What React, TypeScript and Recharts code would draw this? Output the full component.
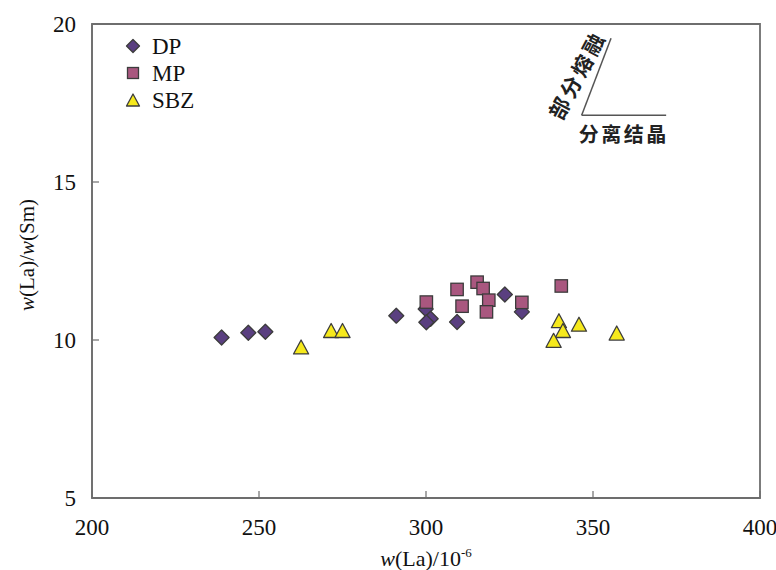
import React from 'react';
import { ScatterChart, Scatter, XAxis, YAxis, ReferenceLine, ReferenceArea, ReferenceDot, Legend } from 'recharts';

const seriesNames = ['DP', 'MP', 'SBZ'];
const dpLa = [238.8, 246.8, 251.9, 291.1, 299.9, 301.4, 300.1, 309.3, 323.6, 328.7];
const dpRatio = [10.08, 10.23, 10.26, 10.77, 10.98, 10.67, 10.56, 10.57, 11.44, 10.89];
const mpLa = [300.1, 309.3, 315.3, 317.1, 310.8, 318.8, 318.1, 328.7, 340.5];
const mpRatio = [11.2, 11.6, 11.83, 11.63, 11.07, 11.26, 10.89, 11.19, 11.71];
const sbzLa = [262.6, 271.6, 275.0, 339.8, 341.0, 338.2, 345.8, 357.1];
const sbzRatio = [9.78, 10.3, 10.3, 10.61, 10.3, 9.99, 10.5, 10.22];
const xTicks = [200, 250, 300, 350, 400];
const yTicks = [5, 10, 15, 20];
const xDomain = [200, 400];
const yDomain = [5, 20];
const meltLabel = '部分熔融';
const crystLabel = '分离结晶';
// annotation guide lines (data coordinates)
const arrowOrigin = { x: 346.6, y: 17.11 };
const meltEnd = { x: 355.4, y: 19.55 };
const crystEnd = { x: 371.9, y: 17.11 };
const meltTextPos = { x: 345.0, y: 18.4 };
const crystTextPos = { x: 359.2, y: 16.52 };

const toPts = (xs: number[], ys: number[]) => xs.map((x, i) => ({ x, y: ys[i] }));
const dpData = toPts(dpLa, dpRatio);
const mpData = toPts(mpLa, mpRatio);
const sbzData = toPts(sbzLa, sbzRatio);

const SERIF = '"Liberation Serif", "Times New Roman", serif';
const CJK = '"Noto Sans CJK SC", sans-serif';
const STROKE = '#3c3c3c';
const AXIS = '#6e6e6e';
const COLORS = { DP: '#5a3f80', MP: '#a9577f', SBZ: '#f6e91c' };

const diamond = (cx: number, cy: number, r: number, fill: string) => (
  <polygon points={`${cx},${cy - r} ${cx + r},${cy} ${cx},${cy + r} ${cx - r},${cy}`} fill={fill} stroke={STROKE} strokeWidth={1.3} strokeLinejoin="round" />
);
const square = (cx: number, cy: number, h: number, fill: string) => (
  <rect x={cx - h} y={cy - h} width={2 * h} height={2 * h} fill={fill} stroke={STROKE} strokeWidth={1.3} />
);
const triangle = (cx: number, cy: number, h: number, fill: string) => (
  <polygon points={`${cx},${cy - h} ${cx + h * 1.08},${cy + h} ${cx - h * 1.08},${cy + h}`} fill={fill} stroke={STROKE} strokeWidth={1.3} strokeLinejoin="round" />
);

const DiamondShape = (p: any) => diamond(p.cx, p.cy, 7.5, COLORS.DP);
const SquareShape = (p: any) => square(p.cx, p.cy, 6.2, COLORS.MP);
const TriangleShape = (p: any) => triangle(p.cx, p.cy, 7, COLORS.SBZ);

const serifStyle = { fontFamily: SERIF };

const LegendContent = () => (
  <svg width={110} height={85} style={{ display: 'block' }}>
    {diamond(13, 16, 6.5, COLORS.DP)}
    <text x={32} y={24} style={serifStyle} fontSize={23} fill="#111">{seriesNames[0]}</text>
    {square(13, 43, 5.5, COLORS.MP)}
    <text x={32} y={51} style={serifStyle} fontSize={23} fill="#111">{seriesNames[1]}</text>
    {triangle(13, 70, 6, COLORS.SBZ)}
    <text x={32} y={78} style={serifStyle} fontSize={23} fill="#111">{seriesNames[2]}</text>
  </svg>
);

const XTick = (p: any) => (
  <text x={p.x} y={p.y} dy={17} textAnchor="middle" style={serifStyle} fontSize={23} fill="#111">
    {p.payload.value}
  </text>
);
const YTick = (p: any) => (
  <text x={p.x} y={p.y} dy={8} textAnchor="end" style={serifStyle} fontSize={23} fill="#111">
    {p.payload.value}
  </text>
);

const XTitle = (props: any) => {
  const vb = props.viewBox;
  const cx = vb.x + vb.width / 2;
  return (
    <text x={cx} y={vb.y + 68} textAnchor="middle" style={serifStyle} fontSize={22} fill="#111">
      <tspan fontStyle="italic">w</tspan>
      <tspan>(La)/10</tspan>
      <tspan fontSize={13} dy={-9}>-6</tspan>
    </text>
  );
};

const YTitle = (props: any) => {
  const vb = props.viewBox;
  const x = 34;
  const y = vb.y + vb.height / 2 - 6;
  return (
    <text x={x} y={y} transform={`rotate(-90 ${x} ${y})`} textAnchor="middle" style={serifStyle} fontSize={21} fill="#111">
      <tspan fontStyle="italic">w</tspan>
      <tspan>(La)/</tspan>
      <tspan fontStyle="italic">w</tspan>
      <tspan>(Sm)</tspan>
    </text>
  );
};

const MeltText = (p: any) => (
  <text x={p.cx} y={p.cy} transform={`rotate(-62 ${p.cx} ${p.cy})`} textAnchor="middle" dominantBaseline="central"
    fontFamily={CJK} fontWeight={700} fontSize={21} letterSpacing={3} fill="#222">{meltLabel}</text>
);
const CrystText = (p: any) => (
  <text x={p.cx} y={p.cy} textAnchor="middle" dominantBaseline="central"
    fontFamily={CJK} fontWeight={700} fontSize={20} letterSpacing={2.5} fill="#222">{crystLabel}</text>
);

export default function App() {
  return (
    <div style={{ position: 'absolute', left: 0, top: 0, width: 776, height: 570, background: '#fff' }}>
      <ScatterChart width={776} height={570} margin={{ top: 24, right: 16, bottom: 32, left: 32 }}>
        <XAxis
          type="number"
          dataKey="x"
          domain={xDomain}
          ticks={xTicks}
          allowDataOverflow
          height={40}
          tickSize={-7}
          tickMargin={27}
          axisLine={{ stroke: AXIS, strokeWidth: 1.5 }}
          tickLine={{ stroke: AXIS, strokeWidth: 1.2 }}
          tick={XTick}
          label={<XTitle />}
        />
        <YAxis
          type="number"
          dataKey="y"
          domain={yDomain}
          ticks={yTicks}
          allowDataOverflow
          width={60}
          tickSize={-7}
          tickMargin={23}
          axisLine={{ stroke: AXIS, strokeWidth: 1.5 }}
          tickLine={{ stroke: AXIS, strokeWidth: 1.2 }}
          tick={YTick}
          label={<YTitle />}
        />
        <ReferenceArea x1={200} x2={400} y1={5} y2={20} fill="none" stroke={AXIS} strokeWidth={1.8} />
        <ReferenceLine segment={[arrowOrigin, meltEnd]} stroke="#555" strokeWidth={1.5} />
        <ReferenceLine segment={[arrowOrigin, crystEnd]} stroke="#555" strokeWidth={1.5} />
        <ReferenceDot x={meltTextPos.x} y={meltTextPos.y} r={0} shape={MeltText} />
        <ReferenceDot x={crystTextPos.x} y={crystTextPos.y} r={0} shape={CrystText} />
        <Legend
          layout="vertical"
          align="center"
          verticalAlign="middle"
          content={LegendContent}
          wrapperStyle={{ position: 'absolute', left: 120, top: 30, width: 110, height: 85 }}
        />
        <Scatter name="DP" data={dpData} shape={DiamondShape} isAnimationActive={false} />
        <Scatter name="MP" data={mpData} shape={SquareShape} isAnimationActive={false} />
        <Scatter name="SBZ" data={sbzData} shape={TriangleShape} isAnimationActive={false} />
      </ScatterChart>
    </div>
  );
}
